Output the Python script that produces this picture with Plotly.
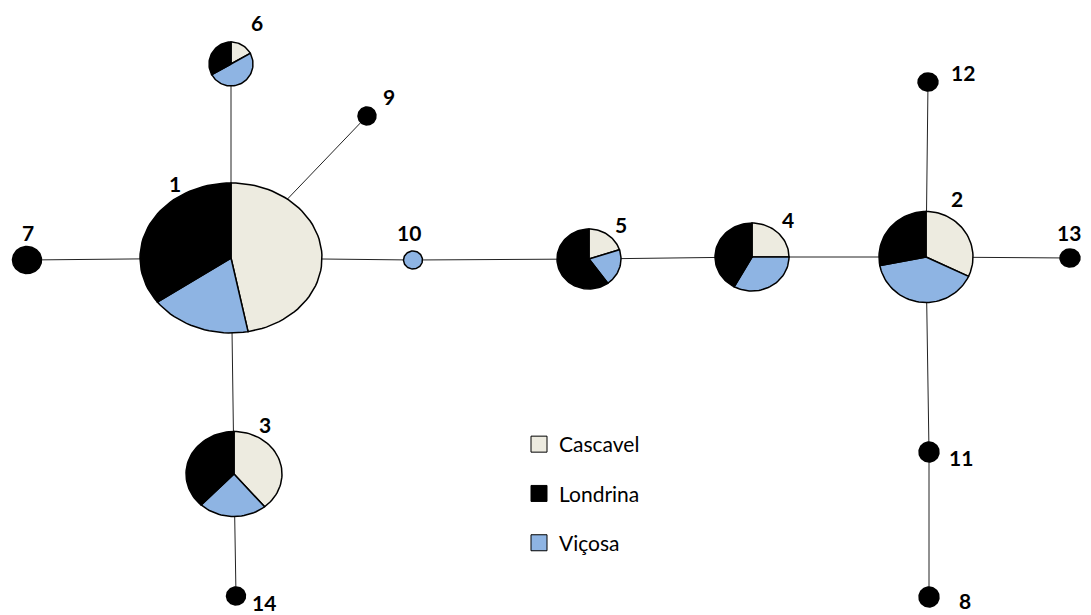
import numpy as np
import plotly.graph_objects as go

# ---------------- data ----------------
haplotypes = ["1", "2", "3", "4", "5", "6", "7", "8", "9", "10", "11", "12", "13", "14"]
populations = ["Cascavel", "Londrina", "Viçosa"]
# share of each haplotype found in each population
cascavel = [0.47, 0.32, 0.39, 0.25, 0.20, 0.17, 0, 0, 0, 0, 0, 0, 0, 0]
vicosa = [0.18, 0.40, 0.23, 0.33, 0.20, 0.50, 0, 0, 0, 1, 0, 0, 0, 0]
londrina = [0.35, 0.28, 0.38, 0.42, 0.60, 0.33, 1, 1, 1, 0, 1, 1, 1, 1]
edges = [("1", "7"), ("1", "6"), ("1", "9"), ("1", "3"), ("3", "14"), ("1", "10"),
         ("10", "5"), ("5", "4"), ("4", "2"), ("2", "13"), ("2", "12"), ("2", "11"),
         ("11", "8")]

# ---------------- layout (pixel space) ----------------
node_x = [231, 926, 234, 752, 589, 231, 27, 929, 367, 413, 929, 928, 1070, 236]
node_y = [258, 257, 474, 257, 259, 64, 260, 597, 116, 260, 452, 82, 258, 596]
node_rx = [91, 47, 48, 37, 32, 22, 14.5, 10, 9, 9.5, 10, 10, 10, 9.5]
node_ry = [75, 45.5, 42.5, 34, 30, 22, 13.5, 10, 9, 9, 10, 9, 9, 9]
label_x = [175, 957, 265, 788, 621, 257, 28, 965, 389, 409, 961, 963, 1069, 264]
label_y = [183, 198, 424, 219, 224, 22, 232, 600, 96, 232, 457, 72, 232, 602]

colors = {"Cascavel": "#EDEBE0", "Londrina": "#000000", "Viçosa": "#8EB4E3"}
FONT = "Lato"
W, H = 1091, 615

fig = go.Figure()

# edges
idx = {h: i for i, h in enumerate(haplotypes)}
for a, b in edges:
    i, j = idx[a], idx[b]
    fig.add_trace(go.Scatter(
        x=[node_x[i], node_x[j]], y=[node_y[i], node_y[j]], mode="lines",
        line=dict(color="#222222", width=1), hoverinfo="skip", showlegend=False))


def sector(cx, cy, rx, ry, f0, f1):
    a = np.linspace(f0, f1, max(int((f1 - f0) * 120), 3) + 1) * 2 * np.pi
    xs = cx + rx * np.sin(a)
    ys = cy - ry * np.cos(a)
    if f1 - f0 < 0.999:
        xs = np.concatenate([[cx], xs, [cx]])
        ys = np.concatenate([[cy], ys, [cy]])
    return xs, ys


# pies (clockwise from top: Cascavel, Viçosa, Londrina)
order = [("Cascavel", cascavel), ("Viçosa", vicosa), ("Londrina", londrina)]
for i, h in enumerate(haplotypes):
    start = 0.0
    for pop, vals in order:
        v = vals[i]
        if v <= 0:
            continue
        xs, ys = sector(node_x[i], node_y[i], node_rx[i], node_ry[i], start, start + v)
        fig.add_trace(go.Scatter(
            x=xs, y=ys, mode="lines", fill="toself", fillcolor=colors[pop],
            line=dict(color="black", width=1.5), name=pop,
            hovertemplate=f"Haplótipo {h}<br>{pop}: {v:.0%}<extra></extra>",
            showlegend=False))
        start += v

# legend entries
for pop in populations:
    fig.add_trace(go.Scatter(
        x=[None], y=[None], mode="markers", name=pop, legendgroup=pop,
        marker=dict(symbol="square", size=16, color=colors[pop],
                    line=dict(color="black", width=1))))

# node labels
for i, h in enumerate(haplotypes):
    fig.add_annotation(x=label_x[i], y=label_y[i], text=h, showarrow=False,
                       font=dict(family=FONT, size=21, color="black", weight="bold"),
                       xanchor="center", yanchor="middle")

fig.update_layout(
    width=W, height=H, margin=dict(l=0, r=0, t=0, b=0),
    paper_bgcolor="white", plot_bgcolor="white",
    xaxis=dict(range=[0, W], visible=False, fixedrange=True),
    yaxis=dict(range=[H, 0], visible=False, fixedrange=True),
    showlegend=True,
    legend=dict(x=519 / W, y=1 - 424 / H, xanchor="left", yanchor="top",
                font=dict(family=FONT, size=21, color="black"),
                tracegroupgap=19, bgcolor="rgba(0,0,0,0)", itemclick=False),
)

fig.write_html("out.html", config={"displayModeBar": False},
               post_script="document.body.style.margin='0';document.body.style.overflow='hidden';")
